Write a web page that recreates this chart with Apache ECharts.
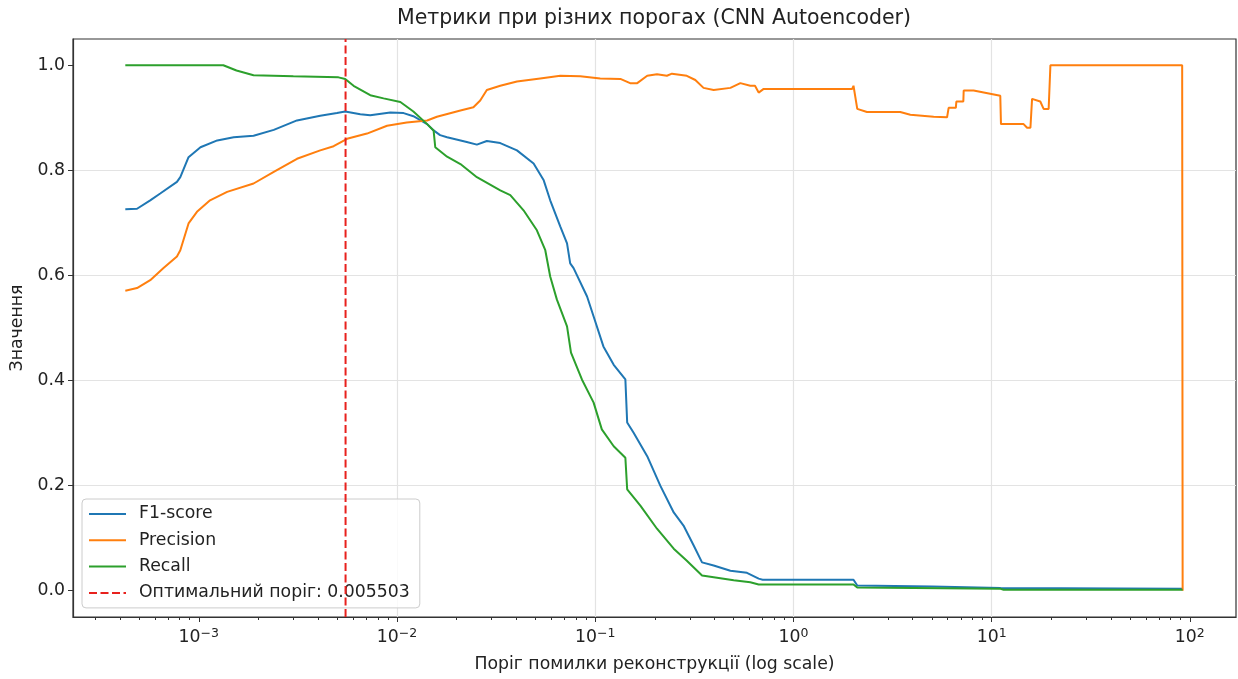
<!DOCTYPE html>
<html>
<head>
<meta charset="utf-8">
<title>Метрики при різних порогах</title>
<script src="https://cdn.jsdelivr.net/npm/echarts@6/dist/echarts.min.js"></script>
<style>
  html, body { margin: 0; padding: 0; background: #fff; }
  #chart { width: 1238px; height: 679px; }
</style>
</head>
<body>
<div id="chart"></div>
<script>
// Threshold chosen by best F1
const optimalThreshold = 0.005503;

// [reconstruction-error threshold, metric value]
const f1Score = [
  [4.26e-4, 0.726], [4.88e-4, 0.727], [5.69e-4, 0.743], [6.39e-4, 0.756], [7.76e-4, 0.778],
  [8.07e-4, 0.787], [8.88e-4, 0.825], [1.02e-3, 0.844], [1.24e-3, 0.857], [1.50e-3, 0.863],
  [1.89e-3, 0.866], [2.39e-3, 0.877], [3.13e-3, 0.895], [4.10e-3, 0.904], [4.98e-3, 0.909],
  [5.48e-3, 0.912], [6.53e-3, 0.907], [7.33e-3, 0.905], [9.25e-3, 0.910], [1.08e-2, 0.909],
  [1.21e-2, 0.903], [1.42e-2, 0.888], [1.53e-2, 0.876], [1.65e-2, 0.867], [1.79e-2, 0.863],
  [2.25e-2, 0.854], [2.53e-2, 0.849], [2.84e-2, 0.856], [3.32e-2, 0.852], [4.03e-2, 0.838],
  [4.89e-2, 0.813], [5.50e-2, 0.781], [5.93e-2, 0.743], [6.67e-2, 0.693], [7.21e-2, 0.661],
  [7.48e-2, 0.623], [7.78e-2, 0.614], [9.10e-2, 0.560], [9.82e-2, 0.522], [0.110, 0.465],
  [0.124, 0.430], [0.142, 0.402], [0.145, 0.320], [0.156, 0.301], [0.183, 0.256],
  [0.213, 0.200], [0.249, 0.149], [0.279, 0.124], [0.314, 0.086], [0.346, 0.054],
  [0.396, 0.048], [0.481, 0.038], [0.583, 0.034], [0.668, 0.023], [0.70, 0.021],
  [2.01, 0.021], [2.10, 0.010], [5.0, 0.008], [11.1, 0.005], [92, 0.004]
];

const precision = [
  [4.26e-4, 0.571], [4.88e-4, 0.576], [5.69e-4, 0.591], [6.64e-4, 0.614], [7.76e-4, 0.636],
  [8.07e-4, 0.648], [8.88e-4, 0.699], [9.79e-4, 0.721], [1.14e-3, 0.743], [1.39e-3, 0.759],
  [1.89e-3, 0.775], [2.39e-3, 0.797], [3.13e-3, 0.822], [4.10e-3, 0.838], [4.79e-3, 0.846],
  [5.60e-3, 0.860], [7.06e-3, 0.870], [8.91e-3, 0.885], [1.12e-2, 0.891], [1.42e-2, 0.895],
  [1.59e-2, 0.902], [2.09e-2, 0.914], [2.43e-2, 0.920], [2.63e-2, 0.933], [2.84e-2, 0.953],
  [3.32e-2, 0.961], [4.03e-2, 0.969], [5.28e-2, 0.975], [6.67e-2, 0.980], [8.41e-2, 0.979],
  [0.106, 0.975], [0.134, 0.974], [0.150, 0.966], [0.163, 0.966], [0.183, 0.980],
  [0.205, 0.983], [0.230, 0.980], [0.244, 0.984], [0.290, 0.980], [0.320, 0.972],
  [0.352, 0.957], [0.396, 0.953], [0.481, 0.957], [0.540, 0.966], [0.606, 0.961],
  [0.640, 0.961], [0.668, 0.948], [0.708, 0.955], [1.98, 0.955], [2.01, 0.961],
  [2.10, 0.917], [2.35, 0.911], [3.46, 0.911], [3.89, 0.906], [5.10, 0.902],
  [5.96, 0.901], [6.07, 0.919], [6.60, 0.919], [6.64, 0.931], [7.20, 0.931],
  [7.23, 0.952], [8.11, 0.952], [11.06, 0.942], [11.15, 0.888], [14.5, 0.888],
  [15.1, 0.881], [15.7, 0.881], [16.0, 0.936], [17.6, 0.931], [18.3, 0.917],
  [19.4, 0.917], [19.8, 1.0], [91.5, 1.0], [92, 0.0]
];

const recall = [
  [4.26e-4, 1.0], [1.33e-3, 1.0], [1.55e-3, 0.990], [1.89e-3, 0.981], [3.0e-3, 0.979],
  [5.07e-3, 0.977], [5.48e-3, 0.974], [6.04e-3, 0.961], [7.33e-3, 0.943], [8.56e-3, 0.937],
  [1.04e-2, 0.930], [1.21e-2, 0.912], [1.42e-2, 0.888], [1.53e-2, 0.876], [1.56e-2, 0.844],
  [1.79e-2, 0.826], [2.09e-2, 0.812], [2.53e-2, 0.787], [3.32e-2, 0.762], [3.73e-2, 0.753],
  [4.35e-2, 0.724], [5.08e-2, 0.686], [5.60e-2, 0.648], [5.93e-2, 0.598], [6.41e-2, 0.554],
  [7.21e-2, 0.503], [7.55e-2, 0.453], [8.57e-2, 0.402], [9.82e-2, 0.358], [0.108, 0.307],
  [0.124, 0.275], [0.142, 0.253], [0.145, 0.193], [0.169, 0.162], [0.205, 0.118],
  [0.249, 0.080], [0.290, 0.057], [0.346, 0.029], [0.500, 0.020], [0.606, 0.016],
  [0.668, 0.012], [2.01, 0.012], [2.10, 0.006], [11.0, 0.004], [11.5, 0.002], [92, 0.002]
];

// Axis ranges and tick labels
const xLimits = [2.32e-4, 171];
const yLimits = [-0.05, 1.05];
const xDecades = [1e-3, 1e-2, 1e-1, 1e0, 1e1, 1e2];
const yTicks = [0, 0.2, 0.4, 0.6, 0.8, 1.0];

const seriesNames = ['F1-score', 'Precision', 'Recall'];
const optimalLabel = 'Оптимальний поріг: ' + optimalThreshold.toFixed(6);

// Minor log ticks (2..9 × 10^n) inside the visible range
const minorTicks = [];
for (let e = -4; e <= 2; e++) {
  for (let k = 2; k <= 9; k++) {
    const v = k * Math.pow(10, e);
    if (v > xLimits[0] && v < xLimits[1]) minorTicks.push(v);
  }
}

const FONT = 'DejaVu Sans';
const FS = 17.3;
const TEXT = '#222';
const SPINE = '#333';
const GRID = '#e3e3e3';

const chart = echarts.init(document.getElementById('chart'), null, { renderer: 'canvas' });

function lineSeries(name, data, color) {
  return {
    name: name,
    type: 'line',
    data: data,
    xAxisIndex: 0,
    yAxisIndex: 0,
    showSymbol: false,
    symbol: 'none',
    smooth: false,
    animation: false,
    z: 3,
    lineStyle: { color: color, width: 2 },
    itemStyle: { color: color }
  };
}

const option = {
  animation: false,
  backgroundColor: '#fff',
  title: {
    text: 'Метрики при різних порогах (CNN Autoencoder)',
    left: 654, textAlign: 'center',
    top: 8, padding: 0,
    textStyle: { fontFamily: FONT, fontSize: 20.5, fontWeight: 'normal', color: TEXT }
  },
  grid: {
    left: 73, right: 2, top: 39, bottom: 62,
    show: true, borderColor: SPINE, borderWidth: 1.2, backgroundColor: '#fff'
  },
  legend: {
    orient: 'vertical',
    left: 82, top: 499,
    data: seriesNames.concat([optimalLabel]),
    itemWidth: 37, itemHeight: 18, itemGap: 8.3,
    padding: [6, 10, 6, 6],
    backgroundColor: 'rgba(255,255,255,0.8)',
    borderColor: '#cccccc', borderWidth: 1, borderRadius: 4,
    itemStyle: { opacity: 0 },
    textStyle: { fontFamily: FONT, fontSize: FS, color: TEXT, lineHeight: 18, padding: [0, 0, 0, 8] },
    selectedMode: false
  },
  xAxis: [
    {
      type: 'log', logBase: 10,
      min: xLimits[0], max: xLimits[1],
      name: 'Поріг помилки реконструкції (log scale)',
      nameLocation: 'middle', nameGap: 39,
      nameTextStyle: { fontFamily: FONT, fontSize: FS, color: TEXT },
      axisLine: { show: true, onZero: false, lineStyle: { color: SPINE, width: 1.2 } },
      axisTick: { show: true, customValues: xDecades, length: 5, lineStyle: { color: SPINE, width: 1 } },
      axisLabel: {
        customValues: xDecades,
        margin: 10,
        formatter: function (v) {
          const e = Math.round(Math.log10(v));
          return '{b|10}{s|' + (e < 0 ? '\u2212' : '') + Math.abs(e) + '}';
        },
        rich: {
          b: { fontFamily: FONT, fontSize: FS, color: TEXT, lineHeight: 17, padding: [5, 0, 0, 0] },
          s: { fontFamily: FONT, fontSize: 12.5, color: TEXT, lineHeight: 13, verticalAlign: 'top' }
        }
      },
      splitLine: { show: true, showMinLine: false, showMaxLine: false, lineStyle: { color: GRID, width: 1.2 } },
      minorTick: { show: false },
      minorSplitLine: { show: false }
    },
    {
      type: 'log', logBase: 10,
      min: xLimits[0], max: xLimits[1],
      position: 'bottom', offset: 0,
      axisLine: { show: false, onZero: false },
      axisTick: { show: true, customValues: minorTicks, length: 3, lineStyle: { color: SPINE, width: 1 } },
      axisLabel: { show: false },
      splitLine: { show: false }
    }
  ],
  yAxis: {
    type: 'value',
    min: yLimits[0], max: yLimits[1],
    name: 'Значення',
    nameLocation: 'middle', nameGap: 47, nameRotate: 90,
    nameTextStyle: { fontFamily: FONT, fontSize: FS, color: TEXT },
    axisLine: { show: true, onZero: false, lineStyle: { color: SPINE, width: 1.2 } },
    axisTick: { show: true, customValues: yTicks, length: 5, lineStyle: { color: SPINE, width: 1 } },
    axisLabel: {
      customValues: yTicks,
      margin: 8,
      fontFamily: FONT, fontSize: FS, color: TEXT,
      formatter: function (v) { return v.toFixed(1); }
    },
    splitLine: { show: true, showMinLine: false, showMaxLine: false, lineStyle: { color: GRID, width: 1.2 } }
  },
  series: [
    lineSeries(seriesNames[0], f1Score, '#1f77b4'),
    lineSeries(seriesNames[1], precision, '#ff7f0e'),
    lineSeries(seriesNames[2], recall, '#2ca02c'),
    {
      name: optimalLabel,
      type: 'line',
      data: [[optimalThreshold, yLimits[0]], [optimalThreshold, yLimits[1]]],
      showSymbol: false,
      symbol: 'none',
      animation: false,
      z: 4,
      lineStyle: { color: '#e8211d', width: 2, type: [8, 3.5] },
      itemStyle: { color: '#e8211d' }
    }
  ]
};

chart.setOption(option);
</script>
</body>
</html>
